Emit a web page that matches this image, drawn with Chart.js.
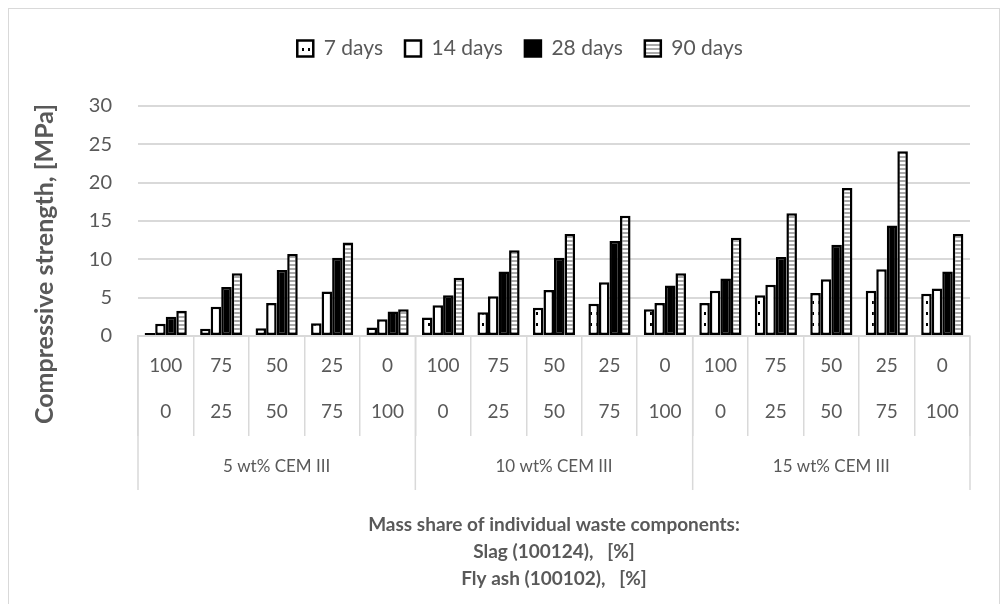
<!DOCTYPE html>
<html>
<head>
<meta charset="utf-8">
<script src="https://cdn.jsdelivr.net/npm/chart.js@4.4.0/dist/chart.umd.min.js"></script>
<style>
  html, body { margin: 0; padding: 0; background: #fff; }
  #wrap { width: 1008px; height: 604px; position: relative; }
</style>
</head>
<body>
<div id="wrap"><canvas id="strengthChart"></canvas></div>
<script>
//x axis rows: slag share, fly ash share, cement content
let slagShare = ['100', '75', '50', '25', '0', '100', '75', '50', '25', '0', '100', '75', '50', '25', '0']
let flyAshShare = ['0', '25', '50', '75', '100', '0', '25', '50', '75', '100', '0', '25', '50', '75', '100']
let cementGroups = ['5 wt% CEM III', '10 wt% CEM III', '15 wt% CEM III']

//compressive strength in MPa
let days7 = [0.4, 0.95, 1.0, 1.65, 1.1, 2.4, 3.1, 3.7, 4.2, 3.5, 4.3, 5.3, 5.6, 5.9, 5.5]
let days14 = [1.6, 3.8, 4.3, 5.8, 2.2, 4.0, 5.2, 6.0, 7.0, 4.3, 5.9, 6.7, 7.4, 8.7, 6.2]
let days28 = [2.5, 6.4, 8.6, 10.2, 3.2, 5.3, 8.4, 10.2, 12.4, 6.6, 7.5, 10.3, 11.9, 14.4, 8.4]
let days90 = [3.3, 8.2, 10.7, 12.2, 3.5, 7.6, 11.2, 13.3, 15.7, 8.2, 12.8, 16.0, 19.3, 24.1, 13.3]

let yTicks = [0, 5, 10, 15, 20, 25, 30]

let textGrey = '#595959'
let lineGrey = '#d9d9d9'
let fontName = 'Lato, "Open Sans", sans-serif'

//small canvas patterns for the 7 and 90 day bars
function makePattern(w, h, draw) {
    let c = document.createElement('canvas')
    c.width = w
    c.height = h
    let g = c.getContext('2d')
    draw(g)
    return g.createPattern(c, 'repeat')
}

let dotFill = makePattern(6, 11, function (g) {
    g.fillStyle = '#fff'
    g.fillRect(0, 0, 6, 11)
    g.fillStyle = '#000'
    g.fillRect(2, 4, 2, 3)
})

let stripeFill = makePattern(2, 4, function (g) {
    g.fillStyle = '#fff'
    g.fillRect(0, 0, 2, 4)
    g.fillStyle = '#aaa'
    g.fillRect(0, 0, 2, 2)
})

let labels = slagShare.map((s, i) => [s, flyAshShare[i]])

//draws the cement group row, its separators, the y title and the frame
let tablePlugin = {
    id: 'tablePlugin',
    afterDraw(chart) {
        let ctx = chart.ctx
        let xs = chart.scales.x
        let area = chart.chartArea
        let half = (xs.getPixelForValue(1) - xs.getPixelForValue(0)) / 2
        let per = slagShare.length / cementGroups.length
        ctx.save()
        ctx.strokeStyle = lineGrey
        ctx.lineWidth = 1.5
        for (let g = 0; g <= cementGroups.length; g++) {
            let px = g < cementGroups.length
                ? xs.getPixelForValue(g * per) - half
                : xs.getPixelForValue(slagShare.length - 1) + half
            ctx.beginPath()
            ctx.moveTo(px, area.bottom)
            ctx.lineTo(px, area.bottom + 154)
            ctx.stroke()
        }
        ctx.fillStyle = textGrey
        ctx.font = '17px ' + fontName
        ctx.textAlign = 'center'
        ctx.textBaseline = 'middle'
        cementGroups.forEach(function (name, g) {
            let mid = (xs.getPixelForValue(g * per) + xs.getPixelForValue(g * per + per - 1)) / 2
            ctx.fillText(name, mid, area.bottom + 131)
        })
        //y axis title
        ctx.translate(45, 264)
        ctx.rotate(-Math.PI / 2)
        ctx.font = 'bold 25px ' + fontName
        ctx.fillText('Compressive strength, [MPa]', 0, 0)
        ctx.restore()
        //outer frame
        ctx.save()
        ctx.strokeStyle = lineGrey
        ctx.lineWidth = 1
        ctx.strokeRect(8.5, 8.5, 991, 610)
        ctx.restore()
    }
}

//make room under the legend
let legendGap = {
    id: 'legendGap',
    beforeInit(chart) {
        let fit = chart.legend.fit
        chart.legend.fit = function () {
            fit.bind(chart.legend)()
            this.height += 37
        }
    }
}

let barStyle = { borderColor: '#000', borderWidth: 2.5, borderSkipped: false }

let ctx = document.getElementById('strengthChart').getContext('2d')

let strengthChart = new Chart(ctx, {
    type: 'bar',
    data: {
        labels: labels,
        datasets: [
            Object.assign({ label: '7 days', data: days7, backgroundColor: dotFill }, barStyle),
            Object.assign({ label: '14 days', data: days14, backgroundColor: '#fff' }, barStyle),
            Object.assign({ label: '28 days', data: days28, backgroundColor: '#000' }, barStyle),
            Object.assign({ label: '90 days', data: days90, backgroundColor: stripeFill }, barStyle)
        ]
    },
    options: {
        responsive: true,
        maintainAspectRatio: false,
        animation: false,
        categoryPercentage: 0.76,
        barPercentage: 1.0,
        layout: { padding: { left: 70, right: 38, top: 16, bottom: 0 } },
        plugins: {
            legend: {
                position: 'top',
                labels: {
                    color: textGrey,
                    font: { family: fontName, size: 21 },
                    boxWidth: 16,
                    boxHeight: 16,
                    padding: 22
                }
            },
            tooltip: { enabled: false }
        },
        scales: {
            x: {
                grid: {
                    offset: true,
                    drawOnChartArea: false,
                    color: lineGrey,
                    lineWidth: 1.5,
                    tickLength: 100
                },
                border: { display: true, color: lineGrey, width: 1.5 },
                ticks: {
                    autoSkip: false,
                    maxRotation: 0,
                    padding: -93,
                    color: textGrey,
                    font: { family: fontName, size: 19, lineHeight: '46px' }
                },
                title: {
                    display: true,
                    text: ['Mass share of individual waste components:', 'Slag (100124),   [%]', 'Fly ash (100102),   [%]'],
                    color: textGrey,
                    font: { family: fontName, size: 19, weight: 'bold', lineHeight: '27px' },
                    padding: { top: 0, bottom: 12 }
                },
                afterFit: function (scale) { scale.height = 268 }
            },
            y: {
                min: 0,
                max: 30,
                afterBuildTicks: function (scale) { scale.ticks = yTicks.map(v => ({ value: v })) },
                grid: { color: lineGrey, lineWidth: 2, drawTicks: false },
                border: { display: false },
                ticks: {
                    padding: 26,
                    color: textGrey,
                    font: { family: fontName, size: 20 }
                },
                afterFit: function (scale) { scale.width = 68 }
            }
        }
    },
    plugins: [tablePlugin, legendGap]
})
</script>
</body>
</html>
